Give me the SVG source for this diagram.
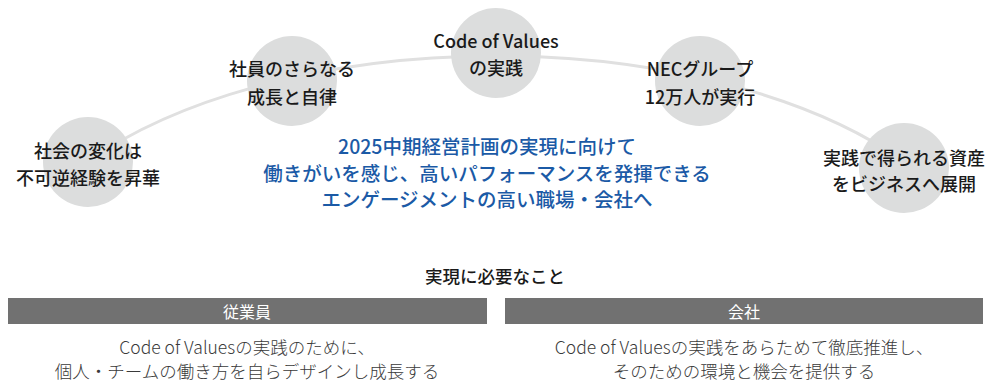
<svg xmlns="http://www.w3.org/2000/svg" width="986" height="382" viewBox="0 0 986 382">
<style>
text{font-family:"Noto Sans CJK JP","Noto Sans",sans-serif;text-anchor:middle;dominant-baseline:central}
.node circle{fill:#dcdddd}
.node text{font-size:18px;font-weight:500;fill:#1a1a1a}
.conn{fill:none;stroke:#e0e0e0;stroke-width:3}
.lead{font-size:19.5px;font-weight:500;fill:#1b5aa6}
.head{font-size:17.5px;font-weight:500;fill:#1a1a1a}
.bar rect{fill:#717171}
.bar text{font-size:16px;fill:#ffffff}
.body{font-size:17.5px;font-weight:300;fill:#3a3a3a}
</style>
<g id="connectors">
<path class="conn" d="M 88 161.5 A 500 250 0 0 1 904 161.5"/>
</g>
<g id="n1" class="node"><circle cx="88" cy="162" r="45"/><text x="88" y="150">社会の変化は</text><text x="88" y="177">不可逆経験を昇華</text></g>
<g id="n2" class="node"><circle cx="292" cy="81" r="45"/><text x="292" y="68">社員のさらなる</text><text x="292" y="96">成長と自律</text></g>
<g id="n3" class="node"><circle cx="496" cy="53" r="45"/><text x="496" y="40">Code of Values</text><text x="496" y="67">の実践</text></g>
<g id="n4" class="node"><circle cx="700" cy="81" r="45"/><text x="700" y="68">NECグループ</text><text x="700" y="96">12万人が実行</text></g>
<g id="n5" class="node"><circle cx="904" cy="168" r="45"/><text x="904" y="157">実践で得られる資産</text><text x="904" y="183">をビジネスへ展開</text></g>
<g id="lead">
<text class="lead" x="487" y="145">2025中期経営計画の実現に向けて</text>
<text class="lead" x="487" y="172">働きがいを感じ、高いパフォーマンスを発揮できる</text>
<text class="lead" x="487" y="198">エンゲージメントの高い職場・会社へ</text>
</g>
<g id="requirements">
<text class="head" x="495" y="275">実現に必要なこと</text>
<g id="employee" class="bar"><rect x="8" y="298" width="479" height="26"/><text x="247" y="311">従業員</text></g>
<g id="company" class="bar"><rect x="505" y="298" width="478" height="26"/><text x="744" y="311">会社</text></g>
<text class="body" x="247" y="346">Code of Valuesの実践のために、</text>
<text class="body" x="247" y="370">個人・チームの働き方を自らデザインし成長する</text>
<text class="body" x="744" y="346">Code of Valuesの実践をあらためて徹底推進し、</text>
<text class="body" x="744" y="370">そのための環境と機会を提供する</text>
</g>
</svg>
